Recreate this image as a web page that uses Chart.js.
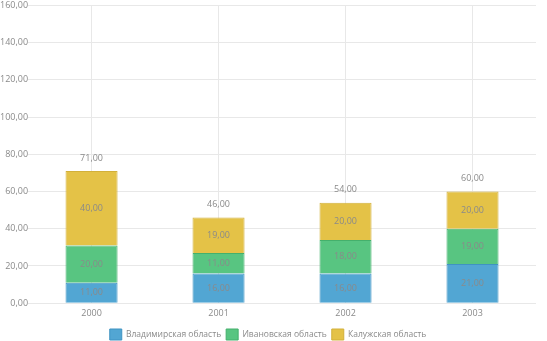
<!DOCTYPE html>
<html>
<head>
<meta charset="utf-8">
<script src="https://cdn.jsdelivr.net/npm/chart.js@4"></script>
<style>
  html, body { margin: 0; padding: 0; background: #fff; }
  #wrap { width: 547px; height: 341px; position: relative; }
</style>
</head>
<body>
<div id="wrap"><canvas id="chart"></canvas></div>
<script>
/* global Chart */

const years = ['2000', '2001', '2002', '2003'];
const vladimir = [11, 16, 16, 21];
const ivanovo = [20, 11, 18, 19];
const kaluga = [40, 19, 20, 20];
const seriesNames = ['Владимирская область', 'Ивановская область', 'Калужская область'];

const FONT = '"Open Sans", "Noto Sans", sans-serif';
const TEXT = '#8a8a8a';

function fmt(n) {
    return Number(n).toFixed(2).replace('.', ',');
}

const valueLabels = {
    id: 'valueLabels',
    afterDatasetsDraw(chart) {
        const ctx = chart.ctx;
        ctx.save();
        ctx.font = '9px ' + FONT;
        ctx.fillStyle = TEXT;
        ctx.textAlign = 'center';
        ctx.textBaseline = 'middle';
        chart.data.datasets.forEach((ds, i) => {
            chart.getDatasetMeta(i).data.forEach((bar, j) => {
                const mid = (bar.y + bar.base) / 2;
                ctx.fillText(fmt(ds.data[j]), bar.x, mid);
            });
        });
        const last = chart.getDatasetMeta(chart.data.datasets.length - 1).data;
        last.forEach((bar, j) => {
            const total = chart.data.datasets.reduce((a, ds) => a + ds.data[j], 0);
            ctx.fillText(fmt(total), bar.x, bar.y - 13);
        });
        ctx.restore();
    }
};

new Chart(document.getElementById('chart').getContext('2d'), {
    type: 'bar',
    data: {
        labels: years,
        datasets: [
            { label: seriesNames[0], data: vladimir, backgroundColor: '#52a6d3', borderColor: '#3f93c2', borderWidth: 1 },
            { label: seriesNames[1], data: ivanovo, backgroundColor: '#58c581', borderColor: '#44b06c', borderWidth: 1 },
            { label: seriesNames[2], data: kaluga, backgroundColor: '#e4c247', borderColor: '#d2b03a', borderWidth: 1 }
        ]
    },
    options: {
        responsive: true,
        maintainAspectRatio: false,
        animation: false,
        layout: { padding: { top: 3, right: 11, left: 0, bottom: -9 } },
        datasets: { bar: { barPercentage: 0.41, categoryPercentage: 1 } },
        scales: {
            x: {
                stacked: true,
                grid: { color: '#e8e8e8', offset: false, drawTicks: false },
                border: { display: false },
                ticks: { color: TEXT, font: { family: FONT, size: 9 }, padding: 5 }
            },
            y: {
                stacked: true,
                min: 0,
                max: 160,
                grid: { color: '#e8e8e8', drawTicks: false },
                border: { display: false },
                ticks: {
                    stepSize: 20,
                    color: TEXT,
                    padding: 0,
                    font: { family: FONT, size: 9 },
                    callback: (v) => fmt(v)
                }
            }
        },
        plugins: {
            legend: {
                position: 'bottom',
                labels: {
                    boxWidth: 12,
                    boxHeight: 11,
                    padding: 5,
                    color: TEXT,
                    font: { family: FONT, size: 8.5 }
                }
            },
            tooltip: { enabled: false }
        }
    },
    plugins: [valueLabels]
});
</script>
</body>
</html>
